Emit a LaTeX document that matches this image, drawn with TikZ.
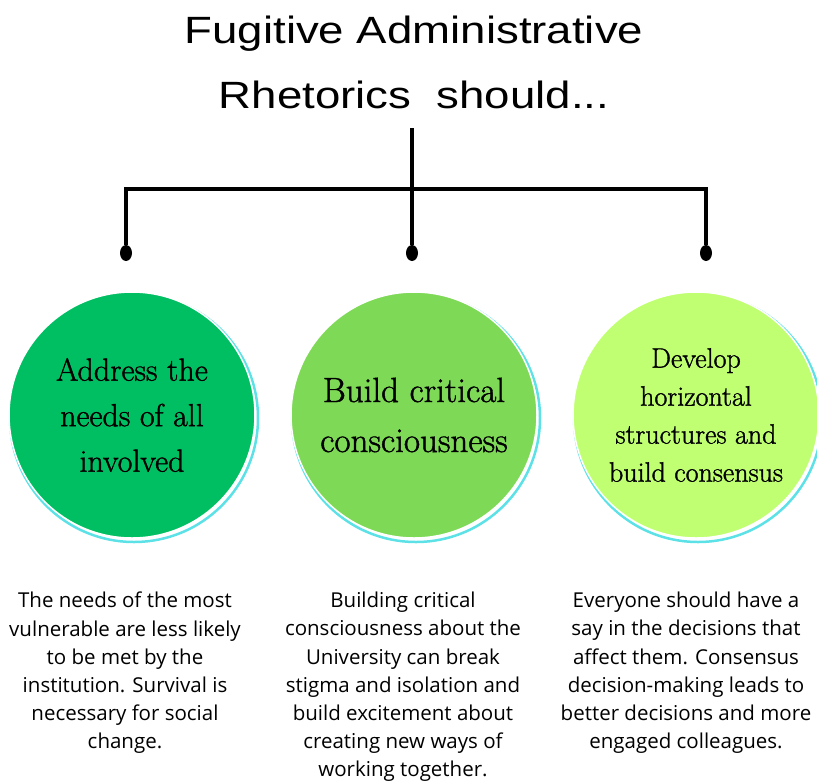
\documentclass[tikz,border=0pt]{standalone}
\usepackage{fontspec}
\usetikzlibrary{positioning,shapes.geometric,backgrounds}
\newfontfamily\titlefont[FakeStretch=1.2]{Liberation Sans}
\newfontfamily\blurbfont{Open Sans}
\newfontfamily\bubblefont[FakeBold=1.2]{Latin Modern Roman}
\definecolor{deepgreen}{HTML}{00BF63}
\definecolor{leafgreen}{HTML}{7ED957}
\definecolor{limegreen}{HTML}{C1FF72}
\definecolor{ringcyan}{HTML}{5CE1E6}

\begin{document}
\begin{tikzpicture}[x=1pt,y=-1pt,node distance=282pt,
    bubble node/.style={circle,minimum size=246pt,inner sep=0pt,draw=white,line width=1.5pt,align=center},
    blurb node/.style={anchor=north,inner sep=0pt,align=center,font=\blurbfont\fontsize{20.5}{28.2}\selectfont},
    pin node/.style={ellipse,fill=black,inner sep=0pt,minimum width=12pt,minimum height=16pt},
    ring/.style={draw=ringcyan,line width=2.5pt}]
    \useasboundingbox (0,0) rectangle (817,782);

    \node[anchor=north,align=center,font=\titlefont\fontsize{38}{65}\selectfont] (title) at (414,12) {Fugitive Administrative\\Rhetorics~ should...};

    \node[bubble node] (address) [fill=deepgreen, font=\bubblefont\fontsize{32}{45.5}\selectfont] at (132,415) {Address the\\needs of all\\involved};
    \node[bubble node] (build) [fill=leafgreen, font=\bubblefont\fontsize{35}{50}\selectfont, right of=address] {Build critical\\consciousness};
    \node[bubble node] (develop) [fill=limegreen, font=\bubblefont\fontsize{28}{38}\selectfont, right of=build] {Develop\\horizontal\\structures and\\build consensus};

    \begin{scope}[on background layer]
        \foreach \b in {address,build,develop}
            \draw[ring] ([shift={(2,3)}]\b.center) circle (124);
    \end{scope}

    \node[pin node] (pin address) at (126,253) {};
    \node[pin node] (pin build) at (412,253) {};
    \node[pin node] (pin develop) at (706,253) {};

    \coordinate (stem) at (412,128);
    \coordinate (hub) at (412,189);
    \draw[line width=3.5pt] (stem) -- (pin build);
    \draw[line width=3.5pt] (pin address) |- (hub) -| (pin develop);

    \node[blurb node] (need) at (125,592) {The needs of the most\\vulnerable are less likely\\to be met by the\\institution. Survival is\\necessary for social\\change.};
    \node[blurb node] (stigma) at (403,592) {Building critical\\consciousness about the\\University can break\\stigma and isolation and\\build excitement about\\creating new ways of\\working together.};
    \node[blurb node] (say) at (686,592) {Everyone should have a\\say in the decisions that\\affect them. Consensus\\decision-making leads to\\better decisions and more\\engaged colleagues.};
\end{tikzpicture}
\end{document}
